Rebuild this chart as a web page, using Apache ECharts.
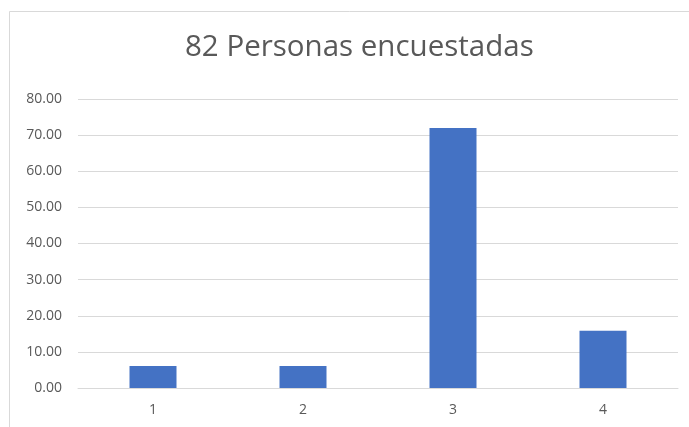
<!DOCTYPE html>
<html>
<head>
<meta charset="utf-8">
<script src="https://cdn.jsdelivr.net/npm/echarts@6/dist/echarts.min.js"></script>
<style>
  html, body { margin: 0; padding: 0; background: #fff; }
  #chart { width: 689px; height: 427px; }
</style>
</head>
<body>
<div id="chart"></div>
<script>
// datos
const categories = ['1', '2', '3', '4']
const values = [6.10, 6.10, 71.95, 15.85]
const yTicks = { min: 0, max: 80, interval: 10 }
const titleText = '82 Personas encuestadas'

const chart = echarts.init(document.getElementById('chart'))
chart.setOption({
  animation: false,
  backgroundColor: '#fff',
  textStyle: { fontFamily: 'Open Sans' },
  title: {
    text: titleText,
    left: 180,
    top: 28,
    textStyle: { fontSize: 29.5, fontWeight: 'normal', color: '#595959', fontFamily: 'Open Sans' }
  },
  graphic: [{
    type: 'rect',
    shape: { x: 9.5, y: 11.5, width: 700, height: 440 },
    style: { fill: 'none', stroke: '#d9d9d9', lineWidth: 1 },
    silent: true
  }],
  grid: { left: 78, right: 11, top: 99, bottom: 39 },
  xAxis: {
    type: 'category',
    data: categories,
    axisLine: { show: true, lineStyle: { color: '#d9d9d9', width: 1 } },
    axisTick: { show: false },
    axisLabel: { color: '#595959', fontSize: 14, margin: 15 }
  },
  yAxis: {
    type: 'value',
    min: yTicks.min,
    max: yTicks.max,
    interval: yTicks.interval,
    axisLine: { show: false },
    axisTick: { show: false },
    splitLine: { lineStyle: { color: '#d9d9d9', width: 1 } },
    axisLabel: {
      color: '#595959',
      fontSize: 14,
      margin: 16,
      formatter: v => v.toFixed(2)
    }
  },
  series: [{
    type: 'bar',
    data: values,
    barWidth: 47,
    itemStyle: { color: '#4472C4' }
  }]
})
</script>
</body>
</html>
